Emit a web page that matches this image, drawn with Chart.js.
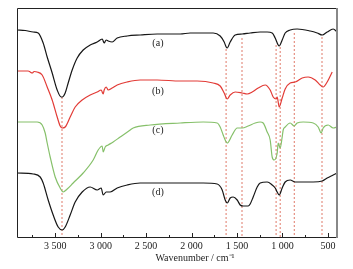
<!DOCTYPE html>
<html>
<head>
<meta charset="utf-8">
<script src="https://cdn.jsdelivr.net/npm/chart.js@4.4.0/dist/chart.umd.min.js"></script>
<style>
  html, body { margin: 0; padding: 0; background: #fff; }
  #wrap { width: 353px; height: 269px; position: relative; }
</style>
</head>
<body>
<div id="wrap"><canvas id="ftirChart"></canvas></div>
<script>
// spectra (wavenumber / offset transmittance, a.u.)
const waveA = [3918,3830,3742,3687,3632,3588,3533,3478,3434,3423,3390,3357,3313,3258,3192,3115,3038,2983,2961,2939,2917,2873,2818,2708,2565,2378,2125,2015,1872,1762,1685,1641,1619,1608,1575,1520,1443,1355,1245,1168,1113,1080,1047,1036,1003,970,915,838,695,618,563,508,442,398];
const transA = [207,206.5,205,204,194,180,164,147,140,140,144,154,167,179,187,192,195,198,194,197,196,195,199,201,202,203,203,204,204,204,201,195,190,189,195,202,203,204,205,205,204,199,192,191,197,204,207,208,206,204,202,205,208,205];

const waveB = [3918,3797,3775,3753,3731,3698,3643,3588,3533,3478,3445,3423,3390,3335,3280,3203,3115,3038,2994,2972,2961,2939,2917,2873,2818,2708,2565,2378,2125,1938,1762,1685,1641,1608,1575,1520,1443,1388,1333,1267,1190,1135,1102,1069,1058,1036,1003,970,915,860,783,717,640,585,552,508,453];
const transB = [166,166,165,164,165.5,165,162,150,137,120,111,109,110,120,130,137,142,145,147,143,147,150,147,149,152,155,157,157,156,156,154,151,144,138,142,145,144,143,145,149,152,147,140,138,140,130,139,148,154,155,159,160,157,152,150,155,165];

const waveC = [3918,3698,3643,3610,3588,3555,3500,3445,3412,3368,3302,3192,3082,3027,2983,2972,2950,2917,2862,2785,2675,2642,2455,2125,1872,1718,1685,1652,1630,1608,1553,1498,1443,1377,1300,1245,1212,1168,1135,1113,1091,1058,1047,1025,1003,992,970,915,871,838,772,662,607,574,552,497,442,398];
const transC = [115,115,112,104,94,80,60,49,45,48,54,64,77,87,91,85,90,92,95,100,107,109,112,114,115,114,110,102,97,94,102,109,109,111,114,115,114,105,97,80,77,84,94,89,100,107,110,114,111,114,115,114,110,104,109,112,109,110];

const waveD = [3918,3742,3665,3632,3577,3522,3467,3423,3390,3335,3280,3203,3115,3038,2994,2972,2939,2895,2818,2708,2565,2378,2125,1872,1718,1663,1630,1608,1575,1542,1498,1465,1432,1377,1355,1322,1278,1245,1168,1113,1080,1058,1036,1003,970,915,860,772,662,563,508,442,398];
const transD = [64,63,60,54,37,22,10,7,10,22,35,45,50,47,49,42,45,45,49,52,54,54,54,54,53,47,37,34,39,40,37,32,31,31,33,40,50,54,55,52,49,45,42,49,55,57,55,55,55,56,59,62,64];

// marked bands (dashed guide lines)
const peakWave = [3425,1620,1445,1070,1025,870,565];
const peakTop = [140,188,199,192,190,204,200];

// curve labels
const seriesNames = ["(a)", "(b)", "(c)", "(d)"];
const labelWave = 2370;
const labelLevel = [194,146,107,45];

const tickValues = [500,1000,1500,2000,2500,3000,3500];
const minorTicks = [750,1250,1750,2250,2750,3250,3750];

const serif = "'Liberation Serif', 'Times New Roman', serif";

const toPoints = (xs, ys) => xs.map((x, i) => ({ x: x, y: ys[i] }));

const traceColors = ["#161616", "#e23b36", "#86c06a", "#161616"];
const traces = [
    [waveA, transA],
    [waveB, transB],
    [waveC, transC],
    [waveD, transD],
].map((t, i) => ({
    data: toPoints(t[0], t[1]),
    borderColor: traceColors[i],
    borderWidth: 1.2,
    pointRadius: 0,
    showLine: true,
    cubicInterpolationMode: "monotone",
    order: 1,
}));

const guides = peakWave.map((w, i) => ({
    data: [{ x: w, y: peakTop[i] }, { x: w, y: 0 }],
    borderColor: "#e07a6a",
    borderWidth: 1,
    borderDash: [2, 2],
    pointRadius: 0,
    showLine: true,
    order: 2,
}));

// frame, inner ticks, axis title and curve labels
const decorPlugin = {
    id: "decor",
    afterDraw: (chart) => {
        const { ctx, chartArea, scales } = chart;
        const { left, right, top, bottom } = chartArea;
        ctx.save();

        ctx.strokeStyle = "#222";
        ctx.lineWidth = 1;
        ctx.beginPath();
        ctx.moveTo(right, top + 0.5);
        ctx.lineTo(left + 0.5, top + 0.5);
        ctx.lineTo(left + 0.5, bottom + 0.5);
        ctx.lineTo(right, bottom + 0.5);
        ctx.stroke();
        ctx.strokeStyle = "#888";
        ctx.lineWidth = 2;
        ctx.beginPath();
        ctx.moveTo(right, top);
        ctx.lineTo(right, bottom + 1);
        ctx.stroke();

        ctx.strokeStyle = "#222";
        ctx.lineWidth = 1;
        ctx.beginPath();
        tickValues.forEach((v) => {
            const x = Math.round(scales.x.getPixelForValue(v)) + 0.5;
            ctx.moveTo(x, bottom);
            ctx.lineTo(x, bottom - 4);
        });
        minorTicks.forEach((v) => {
            const x = Math.round(scales.x.getPixelForValue(v)) + 0.5;
            ctx.moveTo(x, bottom);
            ctx.lineTo(x, bottom - 2);
        });
        ctx.stroke();

        ctx.fillStyle = "#222";
        ctx.font = "10px " + serif;
        ctx.textAlign = "center";
        ctx.textBaseline = "middle";
        ctx.fillText("Wavenumber / cm\u207B\u00B9", 195, 258);

        seriesNames.forEach((name, i) => {
            const x = scales.x.getPixelForValue(labelWave);
            const y = scales.y.getPixelForValue(labelLevel[i]);
            ctx.fillText(name, x, y);
        });
        ctx.restore();
    },
};

new Chart(document.getElementById("ftirChart"), {
    type: "scatter",
    data: { datasets: traces.concat(guides) },
    options: {
        responsive: true,
        maintainAspectRatio: false,
        animation: false,
        devicePixelRatio: 1,
        layout: { padding: { left: 17, right: 16, top: 8, bottom: 0 } },
        plugins: { legend: { display: false }, tooltip: { enabled: false } },
        scales: {
            x: {
                type: "linear",
                reverse: true,
                min: 400,
                max: 3920,
                afterBuildTicks: (scale) => {
                    scale.ticks = tickValues.map((v) => ({ value: v }));
                },
                afterFit: (scale) => {
                    scale.height = 32;
                },
                grid: { display: false, drawTicks: false },
                border: { display: false },
                ticks: {
                    autoSkip: false,
                    maxRotation: 0,
                    padding: 3,
                    color: "#222",
                    font: { family: serif, size: 10 },
                    callback: (v) => String(v).replace(/\B(?=(\d{3})+$)/g, " "),
                },
            },
            y: { display: false, min: 0, max: 229 },
        },
    },
    plugins: [decorPlugin],
});
</script>
</body>
</html>
